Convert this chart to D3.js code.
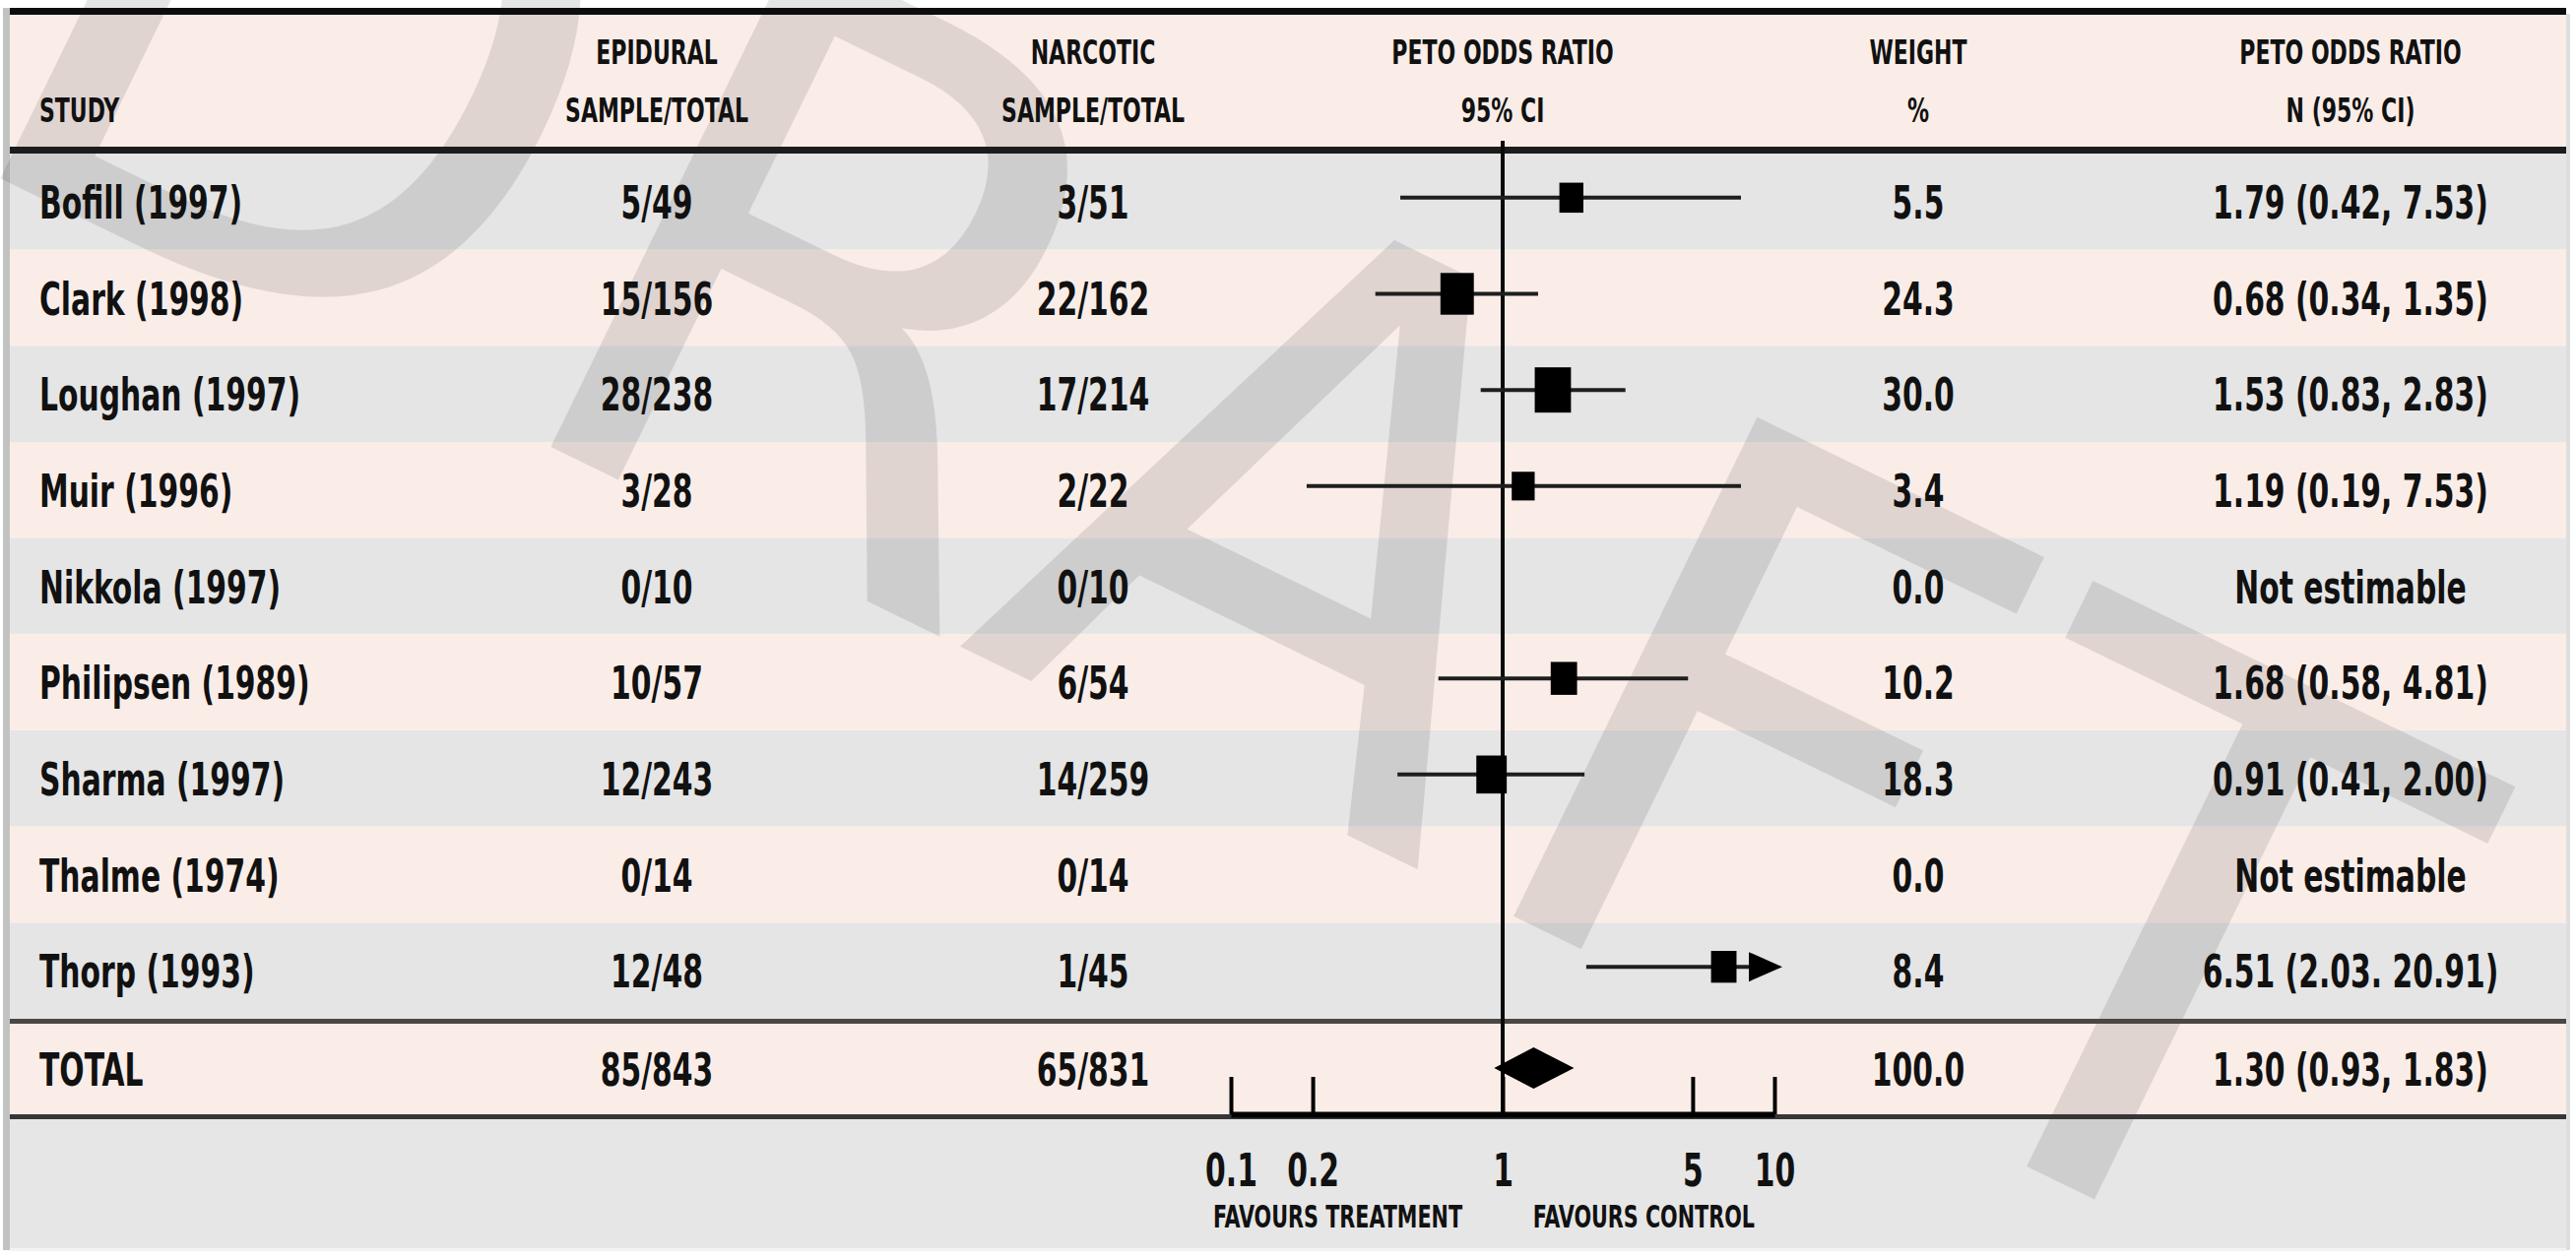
<!DOCTYPE html>
<html>
<head>
<meta charset="utf-8">
<script src="https://cdn.jsdelivr.net/npm/d3@7"></script>
<style>
  html, body { margin: 0; padding: 0; background: #ffffff; }
  svg { display: block; }
  .txt { font-family: "DejaVu Sans Condensed", "DejaVu Sans", sans-serif; font-weight: 700; fill: #111; }
</style>
</head>
<body>
<svg id="chart" width="2616" height="1278"></svg>
<script>
// ---- data -------------------------------------------------------------
const studies = ["Bofill (1997)", "Clark (1998)", "Loughan (1997)", "Muir (1996)", "Nikkola (1997)",
                 "Philipsen (1989)", "Sharma (1997)", "Thalme (1974)", "Thorp (1993)"];
const epiduralEvents = [5, 15, 28, 3, 0, 10, 12, 0, 12];
const epiduralTotals = [49, 156, 238, 28, 10, 57, 243, 14, 48];
const narcoticEvents = [3, 22, 17, 2, 0, 6, 14, 0, 1];
const narcoticTotals = [51, 162, 214, 22, 10, 54, 259, 14, 45];
const weights = [5.5, 24.3, 30.0, 3.4, 0.0, 10.2, 18.3, 0.0, 8.4];
const oddsRatio = [1.79, 0.68, 1.53, 1.19, null, 1.68, 0.91, null, 6.51];
const ciLower   = [0.42, 0.34, 0.83, 0.19, null, 0.58, 0.41, null, 2.03];
const ciUpper   = [7.53, 1.35, 2.83, 7.53, null, 4.81, 2.00, null, 20.91];
const ciLabels  = ["1.79 (0.42, 7.53)", "0.68 (0.34, 1.35)", "1.53 (0.83, 2.83)", "1.19 (0.19, 7.53)",
                   "Not estimable", "1.68 (0.58, 4.81)", "0.91 (0.41, 2.00)", "Not estimable",
                   "6.51 (2.03. 20.91)"];
const pooled = [1.30, 0.93, 1.83];          // estimate, lower, upper
const pooledWeight = 100.0;
const pooledLabel = "1.30 (0.93, 1.83)";
const tickValues = [0.1, 0.2, 1, 5, 10];
const tickLabels = ["0.1", "0.2", "1", "5", "10"];
const headerTop    = ["", "EPIDURAL", "NARCOTIC", "PETO ODDS RATIO", "WEIGHT", "PETO ODDS RATIO"];
const headerBottom = ["STUDY", "SAMPLE/TOTAL", "SAMPLE/TOTAL", "95% CI", "%", "N (95% CI)"];

// ---- layout -------------------------------------------------------------
const left = 10, right = 2606;
const colX = [40, 667, 1110, 1526, 1948, 2387];
const colAnchor = ["start", "middle", "middle", "middle", "middle", "middle"];
const grey = "#e5e5e5", pink = "#faede8";
const narrow = 0.72;                          // horizontal squeeze for the condensed lettering

const svg = d3.select("#chart");

const y = d3.scaleBand().domain(studies).range([156, 1035]);
const totalTop = 1040, totalBottom = 1132, totalMid = (totalTop + totalBottom) / 2;
const x = d3.scaleLog().domain([0.1, 10]).range([1250, 1802]);
const boxH = d3.scaleLinear().domain([0, 30]).range([27, 46]);
const fmtW = d3.format(".1f");

function label(g, str, px, py, anchor) {
  g.append("text")
    .attr("transform", `translate(${px},${py}) scale(${narrow},1)`)
    .attr("text-anchor", anchor)
    .text(str);
}

// backgrounds
svg.append("rect").attr("x", left).attr("y", 14).attr("width", right - left).attr("height", 140).attr("fill", pink);
svg.append("g").selectAll("rect").data(studies).join("rect")
  .attr("x", left).attr("y", d => y(d)).attr("width", right - left).attr("height", y.bandwidth())
  .attr("fill", (d, i) => i % 2 ? pink : grey);
svg.append("rect").attr("x", left).attr("y", totalTop - 4).attr("width", right - left).attr("height", totalBottom - totalTop + 4).attr("fill", pink);
svg.append("rect").attr("x", left).attr("y", totalBottom).attr("width", right - left).attr("height", 1268 - totalBottom).attr("fill", "#e6e6e6");
// page edges
svg.append("rect").attr("x", 3).attr("y", 8).attr("width", 7).attr("height", 1262).attr("fill", "#c2c2c2");
svg.append("rect").attr("x", right).attr("y", 14).attr("width", 4).attr("height", 1256).attr("fill", "#dedede");
svg.append("rect").attr("x", left).attr("y", 1268).attr("width", right - left).attr("height", 3).attr("fill", "#f3f3f3");

// DRAFT watermark
svg.append("text")
  .attr("transform", "translate(-68,148) rotate(26)")
  .attr("font-family", "'DejaVu Sans', sans-serif")
  .attr("font-size", 774)
  .attr("letter-spacing", 26)
  .attr("fill", "#000").attr("fill-opacity", 0.1)
  .text("DRAFT");

// horizontal rules
const rule = (yy, w, c) => svg.append("line").attr("x1", left).attr("x2", right).attr("y1", yy).attr("y2", yy)
  .attr("stroke", c).attr("stroke-width", w);
rule(11.5, 7, "#0d0d0d");
rule(152.5, 7, "#1c1c1c");
rule(1037.5, 5, "#4a4745");
rule(1134.5, 5, "#363636");

// header text
const hdr = svg.append("g").attr("class", "txt").attr("font-size", 34);
headerTop.forEach((t, i) => { if (t) label(hdr, t, colX[i], 65, colAnchor[i]); });
headerBottom.forEach((t, i) => label(hdr, t, colX[i], 124, colAnchor[i]));

// row text
const rows = svg.append("g").attr("class", "txt").attr("font-size", 46);
studies.forEach((s, i) => {
  const by = y(s) + y.bandwidth() / 2 + 17;
  const cells = [s, `${epiduralEvents[i]}/${epiduralTotals[i]}`, `${narcoticEvents[i]}/${narcoticTotals[i]}`,
                 null, fmtW(weights[i]), ciLabels[i]];
  cells.forEach((c, j) => { if (c !== null) label(rows, c, colX[j], by, colAnchor[j]); });
});
const totalCells = ["TOTAL", `${d3.sum(epiduralEvents)}/${d3.sum(epiduralTotals)}`,
  `${d3.sum(narcoticEvents)}/${d3.sum(narcoticTotals)}`, null, fmtW(pooledWeight), pooledLabel];
totalCells.forEach((c, j) => { if (c !== null) label(rows, c, colX[j], totalMid + 17, colAnchor[j]); });

// forest plot: reference line at OR = 1
svg.append("line").attr("x1", x(1)).attr("x2", x(1)).attr("y1", 143).attr("y2", totalBottom)
  .attr("stroke", "#0a0a0a").attr("stroke-width", 4);

const xMax = x.domain()[1];
const plot = svg.append("g");
studies.forEach((s, i) => {
  if (oddsRatio[i] === null) return;
  const cy = y(s) + y.bandwidth() / 2 - 4;
  const arrow = ciUpper[i] > xMax;
  const xHi = x(Math.min(ciUpper[i], xMax));
  plot.append("line")
    .attr("x1", x(ciLower[i])).attr("x2", arrow ? xHi - 20 : xHi)
    .attr("y1", cy).attr("y2", cy).attr("stroke", "#1e1e1e").attr("stroke-width", 4);
  if (arrow) {
    const tip = xHi + 8;
    plot.append("path").attr("d", `M${tip},${cy}L${tip - 34},${cy - 15}L${tip - 34},${cy + 15}Z`).attr("fill", "#000");
  }
  const h = boxH(weights[i]), w = h * 0.8;
  plot.append("rect").attr("x", x(oddsRatio[i]) - w / 2).attr("y", cy - h / 2)
    .attr("width", w).attr("height", h).attr("fill", "#000");
});

// pooled diamond
const dy = totalMid - 1;
plot.append("path")
  .attr("d", `M${x(pooled[1])},${dy}L${x(pooled[0])},${dy - 21}L${x(pooled[2])},${dy}L${x(pooled[0])},${dy + 21}Z`)
  .attr("fill", "#000");

// log axis along the bottom of the total row
const axis = d3.axisBottom(x).tickValues(tickValues).tickFormat((d, i) => tickLabels[i])
  .tickSizeInner(-38).tickSizeOuter(0).tickPadding(40);
const ax = svg.append("g").attr("transform", `translate(0,${totalBottom})`).call(axis);
ax.select(".domain").attr("stroke", "#000").attr("stroke-width", 6);
ax.selectAll(".tick line").attr("stroke", "#000").attr("stroke-width", 4);
ax.selectAll(".tick text").attr("class", "txt").attr("font-size", 46).attr("fill", "#111")
  .attr("transform", `scale(${narrow},1)`);

// favour labels
const fav = svg.append("g").attr("class", "txt").attr("font-size", 32);
label(fav, "FAVOURS TREATMENT", x(0.1) - 18, 1247, "start");
label(fav, "FAVOURS CONTROL", x(10) - 20, 1247, "end");
</script>
</body>
</html>
